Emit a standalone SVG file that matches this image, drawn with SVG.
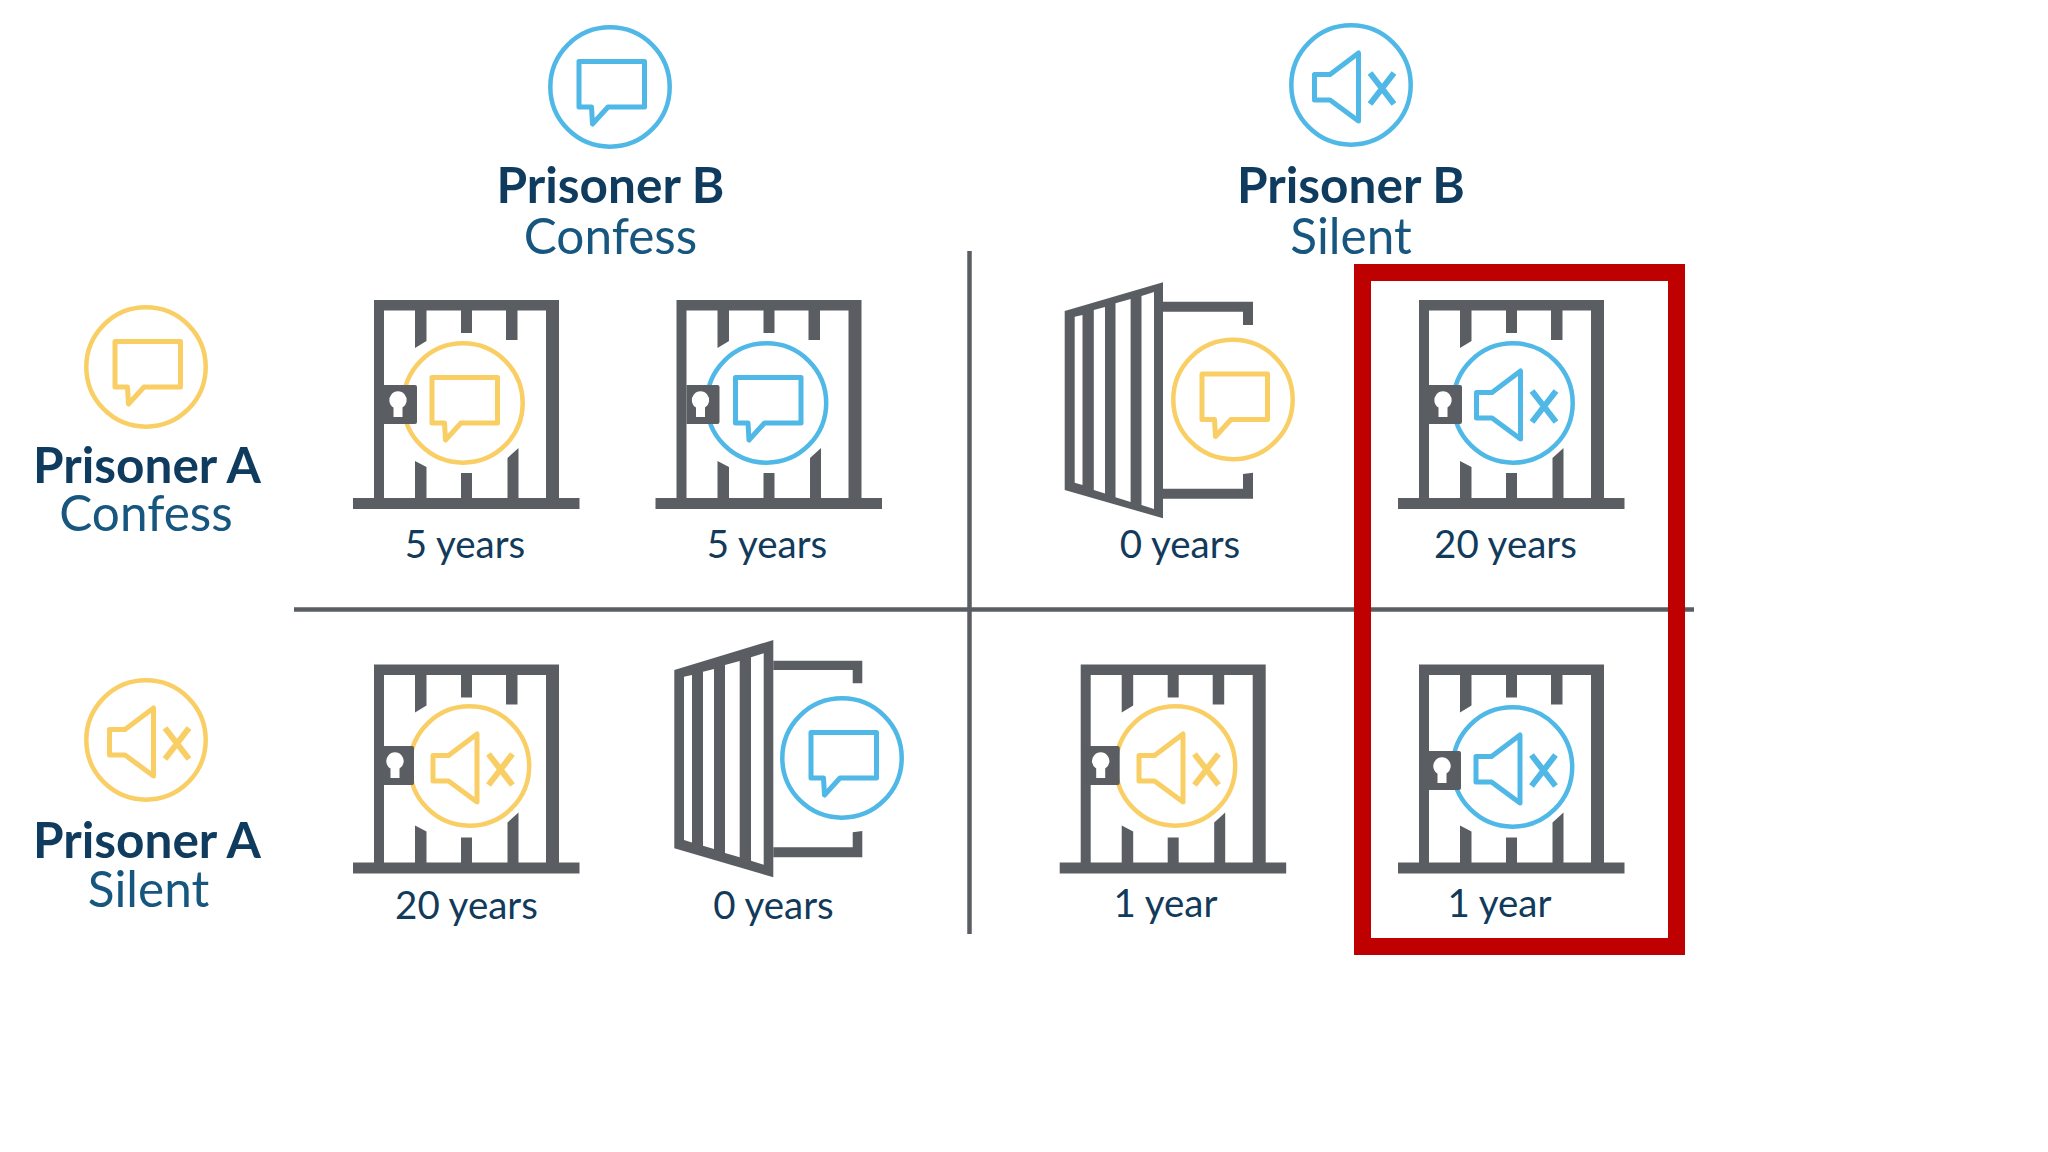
<svg xmlns="http://www.w3.org/2000/svg" xmlns:xlink="http://www.w3.org/1999/xlink" width="2048" height="1152" viewBox="0 0 2048 1152">
<style>
text{font-family:"Lato","Liberation Sans",sans-serif;text-anchor:middle}
.h{font-size:49.500px;font-weight:700;fill:#0e3b5e}
.s{font-size:49.500px;font-weight:400;fill:#17577f}
.y{font-size:38.500px;font-weight:400;fill:#123a5a}
.gray{fill:#5a5e63}
.line{stroke:#5a5e63;stroke-width:4.5;fill:none}
.yl{stroke:#f9cf65}
.bl{stroke:#4fb8e6}
.ic{fill:none;stroke-width:4.500;stroke-linejoin:round}
</style>
<defs>
<g id="jail" class="gray">
<path fill-rule="evenodd" d="M0 0H185V200H172V10.5H10V200H0Z"/>
<rect x="-21" y="198" width="226.500" height="11"/>
<path d="M41 10H52.500V41L41 48ZM87 10H98V33H87ZM132 10H143.500V40H132ZM41 161L52.500 167V200H41ZM87 173H98V200H87ZM133.500 158L144.500 148V200H133.500Z"/>
</g>
<g id="lock">
<path class="gray" d="M-14 -15H17Q19 -15 19 -13V22Q19 24 17 24H-14Z"/>
<path fill="#fff" d="M-4.500 7.500A8.700 8.700 0 1 1 4.500 7.500V17H-4.500Z"/>
</g>
<g id="bubble" class="ic">
<circle r="59.700"/>
<path stroke-width="5" d="M-31 -25.500H34.500V20H-2L-17.500 37L-18.500 20H-31Z"/>
</g>
<g id="mute" class="ic">
<circle r="59.700"/>
<path stroke-width="5" d="M-36.500 -10.500H-21L7.500 -32V36L-21 15H-36.500Z"/>
<path stroke-width="6" d="M19 -12L43 19M43 -12L19 19"/>
</g>
<g id="door1" class="gray">
<path fill-rule="evenodd" d="M1064.700 311L1163 282.300V518.300L1064.700 490ZM1074.700 316.700V482.700L1082.500 485V315ZM1093.800 310V490L1105 493.500V307ZM1115.500 303.300V497.300L1130.600 502V299ZM1141.500 296V505L1154 509V292Z"/>
<path d="M1163 301.700H1253V325H1243V311.700H1163ZM1163 488.700H1243V474L1253 472.700V498.700H1163Z"/>
</g>
<g id="door2" class="gray">
<path fill-rule="evenodd" d="M674.300 670L773.300 640V877.300L674.300 848.300ZM684 676.700V840L692 842.500V675ZM703 671.700V845.700L714 849V669ZM725 665V853L739.700 857.300V661ZM751 657.300V860.700L763.700 864.700V653.300Z"/>
<path d="M773.300 660.700H862.300V683.300H852.700V670H773.300ZM773.300 847.300H852.700V832.300L862.300 831V857.300H773.300Z"/>
</g>
</defs>

<g id="connectors">
<line class="line" x1="294" y1="609.500" x2="1694" y2="609.500"/>
<line class="line" x1="969.500" y1="251" x2="969.500" y2="934"/>
</g>

<g id="header-b-confess">
<use href="#bubble" class="bl" x="610" y="87"/>
<text class="h" x="610.500" y="203">Prisoner B</text>
<text class="s" x="610.500" y="254">Confess</text>
</g>
<g id="header-b-silent">
<use href="#mute" class="bl" x="1351" y="85"/>
<text class="h" x="1351" y="203">Prisoner B</text>
<text class="s" x="1351" y="254">Silent</text>
</g>
<g id="header-a-confess">
<use href="#bubble" class="yl" x="146" y="367"/>
<text class="h" x="147" y="483">Prisoner A</text>
<text class="s" x="146" y="531">Confess</text>
</g>
<g id="header-a-silent">
<use href="#mute" class="yl" x="146" y="740"/>
<text class="h" x="147" y="857.500">Prisoner A</text>
<text class="s" x="148.500" y="907">Silent</text>
</g>

<g id="cell-aconfess-bconfess-a">
<use href="#jail" x="374" y="300"/>
<use href="#bubble" class="yl" x="463" y="403"/>
<use href="#lock" x="398" y="400"/>
<text class="y" x="465" y="557.500">5 years</text>
</g>
<g id="cell-aconfess-bconfess-b">
<use href="#jail" x="676.500" y="300"/>
<use href="#bubble" class="bl" x="766.500" y="403"/>
<use href="#lock" x="700.500" y="400"/>
<text class="y" x="767" y="557.500">5 years</text>
</g>
<g id="cell-aconfess-bsilent-a">
<use href="#door1"/>
<use href="#bubble" class="yl" x="1233" y="399.500"/>
<text class="y" x="1180" y="557.500">0 years</text>
</g>
<g id="cell-aconfess-bsilent-b">
<use href="#jail" x="1419" y="300"/>
<use href="#mute" class="bl" x="1513" y="403"/>
<use href="#lock" x="1443" y="400"/>
<text class="y" x="1505.500" y="557.500">20 years</text>
</g>
<g id="cell-asilent-bconfess-a">
<use href="#jail" x="374" y="664.500"/>
<use href="#mute" class="yl" x="469.500" y="766"/>
<use href="#lock" x="395" y="761"/>
<text class="y" x="466.500" y="918.500">20 years</text>
</g>
<g id="cell-asilent-bconfess-b">
<use href="#door2"/>
<use href="#bubble" class="bl" x="842" y="758"/>
<text class="y" x="773.500" y="918.500">0 years</text>
</g>
<g id="cell-asilent-bsilent-a">
<use href="#jail" x="1080.700" y="664.500"/>
<use href="#mute" class="yl" x="1175.500" y="766"/>
<use href="#lock" x="1100.700" y="761"/>
<text class="y" x="1165.500" y="916.500">1 year</text>
</g>
<g id="cell-asilent-bsilent-b">
<use href="#jail" x="1419" y="664.500"/>
<use href="#mute" class="bl" x="1512.500" y="767"/>
<use href="#lock" x="1442" y="766"/>
<text class="y" x="1499.500" y="916.500">1 year</text>
</g>

<g id="highlight">
<rect x="1362.500" y="272.500" width="314" height="674" fill="none" stroke="#bf0000" stroke-width="17"/>
</g>
</svg>
